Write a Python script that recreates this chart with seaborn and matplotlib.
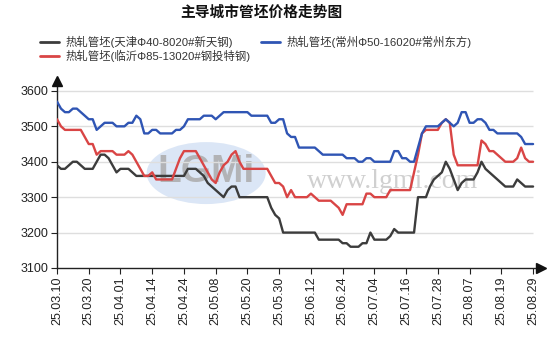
import numpy as np
import pandas as pd
import matplotlib
matplotlib.use("Agg")
import matplotlib.pyplot as plt
import seaborn as sns
from matplotlib.lines import Line2D
from matplotlib.patches import Ellipse
from matplotlib.font_manager import FontProperties

# Trading-day axis labels (one label every 8 trading days)
tick_labels = ["25.03.10", "25.03.20", "25.04.01", "25.04.14", "25.04.24",
               "25.05.08", "25.05.20", "25.05.30", "25.06.12", "25.06.24",
               "25.07.04", "25.07.16", "25.07.28", "25.08.07", "25.08.19",
               "25.08.29"]

series_names = ["热轧管坯(天津Φ40-8020#新天钢)",
                "热轧管坯(临沂Φ85-13020#钢投特钢)",
                "热轧管坯(常州Φ50-16020#常州东方)"]

# Daily prices, yuan/ton
tianjin = [3390, 3380, 3380, 3390, 3400, 3400, 3390, 3380, 3380, 3380,
           3400, 3420, 3420, 3410, 3390, 3370, 3380, 3380, 3380, 3370,
           3360, 3360, 3360, 3360, 3360, 3360, 3360, 3360, 3360, 3360,
           3360, 3360, 3360, 3380, 3380, 3380, 3370, 3360, 3340, 3330,
           3320, 3310, 3300, 3320, 3330, 3330, 3300, 3300, 3300, 3300,
           3300, 3300, 3300, 3300, 3270, 3250, 3240, 3200, 3200, 3200,
           3200, 3200, 3200, 3200, 3200, 3200, 3180, 3180, 3180, 3180,
           3180, 3180, 3170, 3170, 3160, 3160, 3160, 3170, 3170, 3200,
           3180, 3180, 3180, 3180, 3190, 3210, 3200, 3200, 3200, 3200,
           3200, 3300, 3300, 3300, 3330, 3350, 3360, 3370, 3400, 3380,
           3350, 3320, 3340, 3350, 3350, 3350, 3370, 3400, 3380, 3370,
           3360, 3350, 3340, 3330, 3330, 3330, 3350, 3340, 3330, 3330,
           3330]

linyi = [3520, 3500, 3490, 3490, 3490, 3490, 3490, 3470, 3450, 3450,
         3420, 3430, 3430, 3430, 3430, 3420, 3420, 3420, 3430, 3420,
         3400, 3380, 3360, 3360, 3370, 3350, 3350, 3350, 3350, 3350,
         3380, 3410, 3430, 3430, 3430, 3430, 3410, 3390, 3370, 3350,
         3340, 3370, 3390, 3400, 3420, 3430, 3400, 3380, 3380, 3380,
         3380, 3380, 3380, 3380, 3360, 3340, 3340, 3330, 3300, 3320,
         3300, 3300, 3300, 3300, 3310, 3300, 3290, 3290, 3290, 3290,
         3280, 3270, 3250, 3280, 3280, 3280, 3280, 3280, 3310, 3310,
         3300, 3300, 3300, 3300, 3320, 3320, 3320, 3320, 3320, 3320,
         3370, 3420, 3480, 3490, 3490, 3490, 3490, 3510, 3520, 3510,
         3420, 3390, 3390, 3390, 3390, 3390, 3390, 3460, 3450, 3430,
         3430, 3420, 3410, 3400, 3400, 3400, 3410, 3440, 3410, 3400,
         3400]

changzhou = [3570, 3550, 3540, 3540, 3550, 3550, 3540, 3530, 3520, 3520,
             3490, 3500, 3510, 3510, 3510, 3500, 3500, 3500, 3510, 3510,
             3530, 3520, 3480, 3480, 3490, 3490, 3480, 3480, 3480, 3480,
             3490, 3490, 3500, 3520, 3520, 3520, 3520, 3530, 3530, 3530,
             3520, 3530, 3540, 3540, 3540, 3540, 3540, 3540, 3540, 3530,
             3530, 3530, 3530, 3530, 3510, 3510, 3520, 3520, 3480, 3470,
             3470, 3440, 3440, 3440, 3440, 3440, 3430, 3420, 3420, 3420,
             3420, 3420, 3420, 3410, 3410, 3410, 3400, 3400, 3410, 3410,
             3400, 3400, 3400, 3400, 3400, 3430, 3430, 3410, 3410, 3400,
             3400, 3440, 3480, 3500, 3500, 3500, 3500, 3510, 3520, 3510,
             3500, 3510, 3540, 3540, 3510, 3510, 3520, 3520, 3510, 3490,
             3490, 3480, 3480, 3480, 3480, 3480, 3480, 3470, 3450, 3450,
             3450]

colors = ["#3c3c3c", "#d94545", "#2f55b4"]

days = np.arange(len(tianjin))
df = pd.DataFrame({
    "day": np.concatenate([days, days, days]),
    "price": tianjin + linyi + changzhou,
    "series": np.repeat(series_names, len(days)),
})

sns.set_theme(style="white")
plt.rcParams["font.family"] = ["Noto Sans CJK SC", "DejaVu Sans"]

fig = plt.figure(figsize=(5.54, 3.43), dpi=100)
ax = fig.add_axes([57 / 554, 1 - 268 / 343, (541 - 57) / 554, (268 - 81) / 343])

# faint site watermark
ax.add_patch(Ellipse((37.6, 3368), 30, 175, facecolor="#c4d6f0", edgecolor="none",
                     alpha=0.6, zorder=0))
ax.text(37.6, 3372, "LGMi", ha="center", va="center", fontsize=28, weight="bold",
        color="#ababab", alpha=0.85, family="Liberation Sans", zorder=0)
ax.text(84.5, 3345, "www.lgmi.com", ha="center", va="center", fontsize=20,
        color="#d0d0d0", family="Liberation Serif", zorder=0)

yticks = [3100, 3200, 3300, 3400, 3500, 3600]
ax.hlines(yticks[1:], 0, days[-1], color="#dedede", lw=1.0, zorder=0.5)

sns.lineplot(data=df, x="day", y="price", hue="series", hue_order=series_names,
             palette=dict(zip(series_names, colors)), linewidth=1.7, ax=ax,
             legend=False, zorder=3)

ax.set_xlim(0, 122)
ax.set_ylim(3100, 3628)
ax.set_xticks(range(0, len(days), 8))
ax.set_xticklabels(tick_labels, rotation=90, family="Liberation Sans",
                   fontsize=9, color="#222222")
ax.set_yticks(yticks)
ax.set_yticklabels([str(v) for v in yticks], family="Liberation Sans",
                   fontsize=9, color="#222222")
ax.tick_params(axis="both", direction="out", length=4, width=0.8, color="#222222",
               pad=2, left=True, bottom=True)
ax.set_xlabel("")
ax.set_ylabel("")

for side in ["top", "right"]:
    ax.spines[side].set_visible(False)
for side in ["left", "bottom"]:
    ax.spines[side].set_color("#222222")
    ax.spines[side].set_linewidth(1.0)

# arrow heads on both axes
ax.plot([0], [1], marker="^", ms=7, color="#111111", transform=ax.transAxes,
        clip_on=False, zorder=5)
ax.plot([1], [0], marker=">", ms=7, color="#111111", transform=ax.transAxes,
        clip_on=False, zorder=5)

fig.text(261 / 554, 1 - 12 / 343, "主导城市管坯价格走势图", ha="center", va="center",
         fontsize=10.6, weight="bold", color="#111111")

legend_font = FontProperties(family=["Liberation Sans", "Noto Sans CJK SC"], size=8.2)
handles = [Line2D([], [], color=c, lw=2) for c in colors]
fig.legend(handles, series_names, loc="upper left",
           bbox_to_anchor=(40 / 554, 1 - 35.5 / 343), ncol=2, frameon=False,
           prop=legend_font, handlelength=1.68, handletextpad=0.53, columnspacing=0.97,
           labelspacing=0.22, borderpad=0, borderaxespad=0, labelcolor="#333333")

fig.savefig("out.png", dpi=100)
